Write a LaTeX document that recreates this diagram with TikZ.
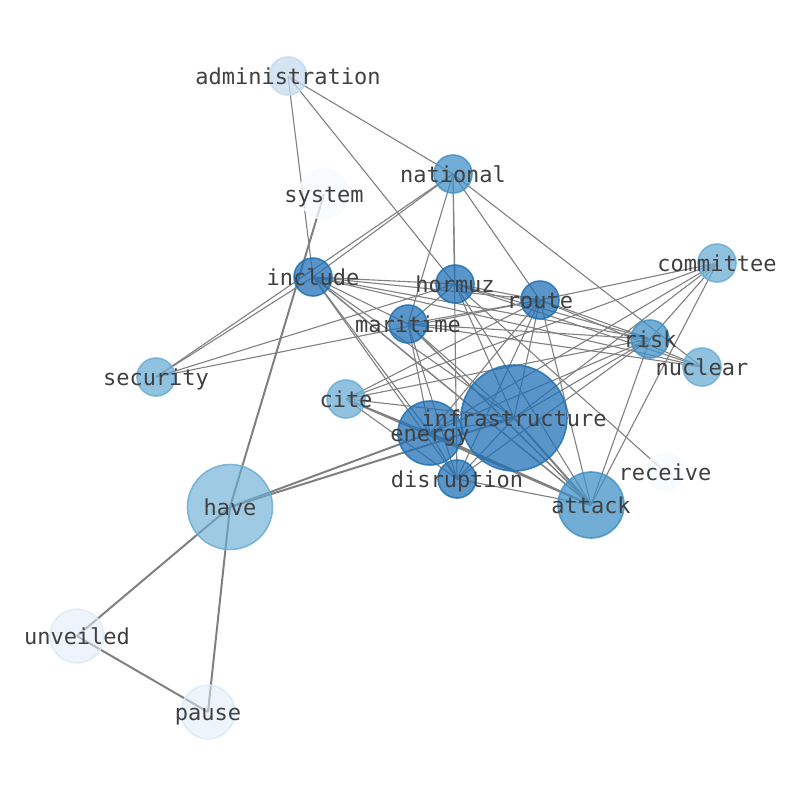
\documentclass[tikz,border=0pt]{standalone}
\usepackage{fontspec}
\setmonofont{DejaVu Sans Mono}
\definecolor{bluedark}{HTML}{2171B5}
\definecolor{bluemid}{HTML}{4292C6}
\definecolor{bluelight}{HTML}{6BAED6}
\definecolor{bluepale}{HTML}{C6DBEF}
\definecolor{bluefaint}{HTML}{DEEBF7}
\definecolor{bluewhite}{HTML}{F7FBFF}
\pgfdeclarelayer{bg}
\pgfsetlayers{bg,main}
\begin{document}
\begin{tikzpicture}[x=1pt,y=-1pt,
    blob/.style 2 args={circle,inner sep=0pt,minimum size=#1,line width=1.6pt,
        fill=#2,draw=#2,fill opacity=0.75,draw opacity=0.85},
    lbl/.style={font=\fontsize{22}{24}\ttfamily,text=black!75,
        text height=16.5pt,text depth=0pt},
    link/.style={draw=gray,line width=1.1pt},
    heavy/.style={draw=gray,line width=2pt}]
    \useasboundingbox (0,0) rectangle (794,790);

    % words
    \node[blob={38pt}{bluepale}] (administration) at (288,76) {};
    \node[blob={50pt}{bluewhite}] (system) at (324,194) {};
    \node[blob={38pt}{bluemid}] (national) at (453,174) {};
    \node[blob={38pt}{bluedark}] (include) at (313,277) {};
    \node[blob={38pt}{bluedark}] (hormuz) at (455,284) {};
    \node[blob={38pt}{bluedark}] (route) at (540,300) {};
    \node[blob={38pt}{bluedark}] (maritime) at (408,324) {};
    \node[blob={38pt}{bluelight}] (committee) at (717,263) {};
    \node[blob={38pt}{bluemid}] (risk) at (650,339) {};
    \node[blob={38pt}{bluelight}] (nuclear) at (702,367) {};
    \node[blob={38pt}{bluelight}] (security) at (156,377) {};
    \node[blob={38pt}{bluelight}] (cite) at (346,399) {};
    \node[blob={106pt}{bluedark}] (infrastructure) at (514,418) {};
    \node[blob={64pt}{bluedark}] (energy) at (430,433) {};
    \node[blob={38pt}{bluedark}] (disruption) at (457,479) {};
    \node[blob={38pt}{bluewhite}] (receive) at (665,472) {};
    \node[blob={66pt}{bluemid}] (attack) at (591,505) {};
    \node[blob={85pt}{bluelight},fill opacity=0.65] (have) at (230,507) {};
    \node[blob={54pt}{bluefaint},fill opacity=0.55] (unveiled) at (77,636) {};
    \node[blob={54pt}{bluefaint},fill opacity=0.55] (pause) at (208,712) {};

    % labels
    \foreach \w in {administration,system,national,include,hormuz,route,
        maritime,committee,risk,nuclear,security,cite,infrastructure,
        energy,disruption,receive,attack,have,unveiled,pause}
        \node[lbl] at (\w) {\w};

    \begin{pgfonlayer}{bg}
    \foreach \a/\b in {administration/national,administration/include,
        administration/hormuz,national/include,national/security,
        national/hormuz,national/disruption,national/maritime,national/route,
        national/nuclear,include/security,include/hormuz,include/route,
        include/maritime,include/risk,include/nuclear,include/infrastructure,
        include/energy,include/disruption,hormuz/maritime,hormuz/route,
        hormuz/infrastructure,hormuz/attack,hormuz/security,hormuz/receive,
        hormuz/risk,hormuz/nuclear,maritime/route,security/route,
        maritime/risk,maritime/nuclear,maritime/infrastructure,maritime/energy,
        maritime/disruption,route/risk,route/nuclear,route/infrastructure,
        route/energy,route/disruption,route/attack,route/cite,
        committee/cite,committee/infrastructure,committee/energy,
        committee/risk,committee/attack,committee/route,risk/cite,
        risk/infrastructure,risk/energy,risk/attack,risk/disruption,
        cite/infrastructure,cite/energy,cite/disruption,
        infrastructure/energy,infrastructure/disruption,energy/disruption,
        disruption/attack}
        \draw[link] (\a.center) -- (\b.center);
    \draw[link,line width=1.5pt] (include.center) -- (attack.center);
    \draw[link,line width=1.5pt] (maritime.center) -- (attack.center);
    \foreach \a/\b in {system/have,have/energy,have/infrastructure,
        have/unveiled,have/pause,unveiled/pause,cite/attack,
        energy/attack,infrastructure/attack}
        \draw[heavy] (\a.center) -- (\b.center);
    \end{pgfonlayer}
\end{tikzpicture}
\end{document}
